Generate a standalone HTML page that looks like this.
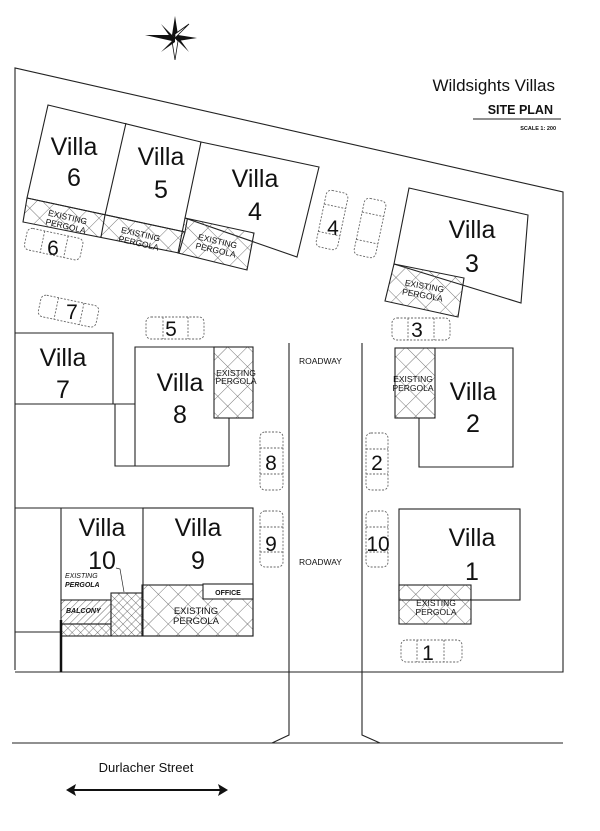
<!DOCTYPE html>
<html><head><meta charset="utf-8"><style>
html,body{margin:0;padding:0;background:#fff;}
svg{display:block;}
text{font-family:"Liberation Sans",Arial,sans-serif;fill:#111;}
.v{font-size:25px;text-anchor:middle;}
.p{font-size:8.5px;text-anchor:middle;fill:#333;}
.c{font-size:21px;text-anchor:middle;}
</style></head><body>
<svg width="600" height="831" viewBox="0 0 600 831" xmlns="http://www.w3.org/2000/svg">
<defs>
<pattern id="h" width="14" height="14" patternUnits="userSpaceOnUse" patternTransform="rotate(45)">
<line x1="0" y1="0" x2="0" y2="14" stroke="#555" stroke-width="0.8"/>
<line x1="0" y1="0" x2="14" y2="0" stroke="#555" stroke-width="0.8"/>
</pattern>
<pattern id="h2" width="6" height="6" patternUnits="userSpaceOnUse" patternTransform="rotate(45)">
<line x1="0" y1="0" x2="0" y2="6" stroke="#444" stroke-width="0.7"/>
<line x1="0" y1="0" x2="6" y2="0" stroke="#444" stroke-width="0.7"/>
</pattern>
<pattern id="h3" width="5" height="5" patternUnits="userSpaceOnUse" patternTransform="rotate(45)">
<line x1="0" y1="0" x2="0" y2="5" stroke="#444" stroke-width="0.8"/>
</pattern>
</defs>
<rect width="600" height="831" fill="#fff"/>

<!-- compass -->
<g transform="translate(175,38)" fill="#111">
<polygon points="0,-22 3,-3 0,0 -3,-3"/>
<polygon points="0,22 3,3 0,0 -3,3" fill="#fff" stroke="#111" stroke-width="0.8"/>
<polygon points="-30,-3 -3,-3 0,0 -3,3"/>
<polygon points="22,0 3,-3 0,0 3,3"/>
<polygon points="-14,-14 -2,-2 0,0 -4,0" />
<polygon points="14,14 2,2 0,0 4,0"/>
<polygon points="14,-14 2,-2 0,0 0,-4" fill="#fff" stroke="#111" stroke-width="0.8"/>
<polygon points="-14,14 -2,2 0,0 0,4"/>
</g>

<!-- title -->
<text x="555" y="91" font-size="17" text-anchor="end">Wildsights Villas</text>
<text x="553" y="114" font-size="12.5" font-weight="bold" text-anchor="end">SITE PLAN</text>
<line x1="473" y1="119" x2="561" y2="119" stroke="#222" stroke-width="1"/>
<text x="556" y="130" font-size="5.5" font-weight="bold" text-anchor="end">SCALE 1: 200</text>

<g fill="none" stroke="#222" stroke-width="1.1">
<!-- lot boundary -->
<polyline points="15,670 15,68 563,192 563,672 15,672"/>
<!-- roads -->
<polyline points="289,343 289,735 272,743"/>
<polyline points="362,343 362,735 380,743"/>
<line x1="12" y1="743" x2="563" y2="743"/>

<!-- villas 6,5 -->
<polygon points="48,105 201,142 185,232 27,198"/>
<line x1="126" y1="123" x2="105" y2="215"/>
<!-- villa 4 -->
<polygon points="201,142 319,167 297,257 185,218" fill="#fff"/>
<!-- pergolas 6,5,4 -->
<polygon points="27,198 185,232 179,253 23,222" fill="url(#h)"/>
<line x1="105" y1="215" x2="101" y2="237"/>
<polygon points="185,218 254,233 247,270 178,253" fill="url(#h)"/>

<!-- villa 3 -->
<polygon points="409,188 528,215 521,303 394,264"/>
<polygon points="394,264 464,278 458,317 385,301" fill="url(#h)"/>

<!-- villa 7 / 8 -->
<polyline points="15,333 113,333 113,404 15,404"/>
<polyline points="113,404 135,404"/>
<polyline points="115,404 115,466 229,466"/>
<polyline points="214,347 135,347 135,466"/>
<polyline points="229,418 229,466"/>
<rect x="214" y="347" width="39" height="71" fill="url(#h)"/>

<!-- villa 2 -->
<polyline points="435,348 513,348 513,467 419,467 419,418"/>
<rect x="395" y="348" width="40" height="70" fill="url(#h)"/>
<!-- villa 1 -->
<rect x="399" y="509" width="121" height="91"/>
<rect x="399" y="585" width="72" height="39" fill="url(#h)" stroke="#222"/>

<!-- villa 10 / 9 -->
<line x1="15" y1="508" x2="253" y2="508"/>
<line x1="61" y1="508" x2="61" y2="600"/>
<rect x="143" y="508" width="110" height="128"/>
<rect x="142" y="585" width="111" height="51" fill="url(#h)"/>
<rect x="203" y="584" width="50" height="15" fill="#fff"/>
<rect x="61" y="600" width="50" height="24" fill="url(#h3)"/>
<rect x="111" y="593" width="31" height="43" fill="url(#h2)"/>
<rect x="61" y="624" width="50" height="12" fill="url(#h2)"/>
<line x1="15" y1="632" x2="61" y2="632"/>
<polyline points="116,568 120,569 124,592" stroke-width="0.7"/>
</g>
<line x1="61" y1="620" x2="61" y2="672" stroke="#111" stroke-width="2.5"/>

<!-- parking (dashed) -->
<g fill="none" stroke="#666" stroke-width="0.9" stroke-dasharray="2,1.5">
<g transform="rotate(12 53 245)"><rect x="25" y="233" width="57" height="22" rx="5"/><line x1="42" y1="233" x2="42" y2="255"/><line x1="66" y1="233" x2="66" y2="255"/></g>
<g transform="rotate(12 68 311)"><rect x="39" y="300" width="59" height="22" rx="5"/><line x1="56" y1="300" x2="56" y2="322"/><line x1="82" y1="300" x2="82" y2="322"/></g>
<rect x="146" y="317" width="58" height="22" rx="5"/><line x1="163" y1="317" x2="163" y2="339"/><line x1="188" y1="317" x2="188" y2="339"/>
<g transform="rotate(12 332 220)"><rect x="321" y="191" width="22" height="58" rx="5"/><line x1="321" y1="206" x2="343" y2="206"/><line x1="321" y1="234" x2="343" y2="234"/></g>
<g transform="rotate(12 370 228)"><rect x="359" y="199" width="22" height="58" rx="5"/><line x1="359" y1="214" x2="381" y2="214"/><line x1="359" y1="242" x2="381" y2="242"/></g>
<rect x="392" y="318" width="58" height="22" rx="5"/><line x1="408" y1="318" x2="408" y2="340"/><line x1="434" y1="318" x2="434" y2="340"/>
<rect x="260" y="432" width="23" height="58" rx="5"/><line x1="260" y1="448" x2="283" y2="448"/><line x1="260" y1="474" x2="283" y2="474"/>
<rect x="260" y="511" width="23" height="56" rx="5"/><line x1="260" y1="527" x2="283" y2="527"/><line x1="260" y1="552" x2="283" y2="552"/>
<rect x="366" y="433" width="22" height="57" rx="5"/><line x1="366" y1="449" x2="388" y2="449"/><line x1="366" y1="474" x2="388" y2="474"/>
<rect x="366" y="511" width="22" height="56" rx="5"/><line x1="366" y1="527" x2="388" y2="527"/><line x1="366" y1="552" x2="388" y2="552"/>
<rect x="401" y="640" width="61" height="22" rx="5"/><line x1="417" y1="640" x2="417" y2="662"/><line x1="444" y1="640" x2="444" y2="662"/>
</g>

<!-- villa labels -->
<text class="v" x="74" y="155">Villa</text><text class="v" x="74" y="186">6</text>
<text class="v" x="161" y="165">Villa</text><text class="v" x="161" y="198">5</text>
<text class="v" x="255" y="187">Villa</text><text class="v" x="255" y="220">4</text>
<text class="v" x="472" y="238">Villa</text><text class="v" x="472" y="272">3</text>
<text class="v" x="63" y="366">Villa</text><text class="v" x="63" y="398">7</text>
<text class="v" x="180" y="391">Villa</text><text class="v" x="180" y="423">8</text>
<text class="v" x="473" y="400">Villa</text><text class="v" x="473" y="432">2</text>
<text class="v" x="472" y="546">Villa</text><text class="v" x="472" y="580">1</text>
<text class="v" x="102" y="536">Villa</text><text class="v" x="102" y="569">10</text>
<text class="v" x="198" y="536">Villa</text><text class="v" x="198" y="569">9</text>

<!-- pergola labels -->
<g class="p">
<text x="67" y="220" transform="rotate(13 67 220)">EXISTING</text><text x="65" y="229" transform="rotate(13 65 229)">PERGOLA</text>
<text x="140" y="237" transform="rotate(13 140 237)">EXISTING</text><text x="138" y="246" transform="rotate(13 138 246)">PERGOLA</text>
<text x="217" y="244" transform="rotate(13 217 244)">EXISTING</text><text x="215" y="253" transform="rotate(13 215 253)">PERGOLA</text>
<text x="424" y="289" transform="rotate(10 424 289)">EXISTING</text><text x="422" y="298" transform="rotate(10 422 298)">PERGOLA</text>
<text x="236" y="376">EXISTING</text><text x="236" y="384">PERGOLA</text>
<text x="413" y="382">EXISTING</text><text x="413" y="391">PERGOLA</text>
<text x="436" y="606">EXISTING</text><text x="436" y="615">PERGOLA</text>
<text x="196" y="614" font-size="9.5">EXISTING</text><text x="196" y="624" font-size="9.5">PERGOLA</text>
</g>
<text x="228" y="595" font-size="7" font-weight="bold" text-anchor="middle">OFFICE</text>
<text x="65" y="578" font-size="7" font-style="italic">EXISTING</text>
<text x="65" y="587" font-size="7" font-style="italic" font-weight="bold">PERGOLA</text>
<text x="66" y="613" font-size="7" font-style="italic" font-weight="bold">BALCONY</text>
<text x="299" y="364" font-size="8.5">ROADWAY</text>
<text x="299" y="565" font-size="8.5">ROADWAY</text>

<!-- car labels -->
<text class="c" x="53" y="255">6</text>
<text class="c" x="72" y="319">7</text>
<text class="c" x="171" y="336">5</text>
<text class="c" x="333" y="235">4</text>
<text class="c" x="417" y="337">3</text>
<text class="c" x="271" y="470">8</text>
<text class="c" x="271" y="551">9</text>
<text class="c" x="377" y="470">2</text>
<text class="c" x="378" y="551">10</text>
<text class="c" x="428" y="660">1</text>

<!-- street -->
<text x="146" y="772" font-size="13" text-anchor="middle">Durlacher Street</text>
<line x1="72" y1="790" x2="222" y2="790" stroke="#111" stroke-width="2"/>
<polygon points="66,790 76,784 74,790 76,796" fill="#111"/>
<polygon points="228,790 218,784 220,790 218,796" fill="#111"/>
</svg>
</body></html>
